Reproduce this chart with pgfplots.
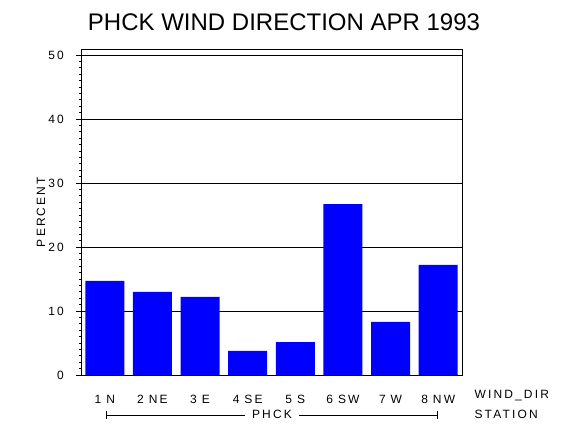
\documentclass[border=0pt]{standalone}
\usepackage{fontspec}
\setmainfont{Liberation Sans}
\newfontfamily\labfont[LetterSpace=18]{Liberation Sans}
\usepackage{pgfplots}
\pgfplotsset{compat=1.18}

\definecolor{barblue}{RGB}{0,0,255}
\newcommand{\gap}{\hspace{5pt}}

\begin{document}
\begin{tikzpicture}
\path[use as bounding box] (0,0) rectangle (570pt,430pt);

\node[anchor=base] at (284pt,399pt) {\fontsize{24}{24}\selectfont PHCK WIND DIRECTION APR 1993};

\begin{axis}[
  at={(81pt,55pt)}, anchor=south west,
  scale only axis, width=381pt, height=326pt,
  xmin=0.5, xmax=8.5, ymin=0, ymax=50.94,
  ybar, bar width=39pt,
  axis line style={black, line width=0.9pt},
  xtick=data,
  xticklabels={1\gap N, 2\gap NE, 3\gap E, 4\gap SE, 5\gap S, 6\gap SW, 7\gap W, 8\gap NW},
  major x tick style={draw=none},
  xticklabel style={font=\fontsize{12}{12}\labfont, anchor=base, yshift=-24pt, inner sep=0pt},
  ytick={0,10,20,30,40,50},
  minor y tick num=9,
  ytick pos=left, tick align=outside,
  major tick length=5pt, minor tick length=2.5pt,
  every tick/.style={black, line width=0.8pt},
  yticklabel style={font=\fontsize{12}{12}\labfont, anchor=east, inner sep=0pt, xshift=-12pt},
  /pgf/number format/assume math mode=true,
  ymajorgrids, grid style={black, line width=0.9pt},
  ylabel={PERCENT},
  ylabel style={font=\fontsize{12}{12}\labfont, at={(axis description cs:-0.105,0.5)}, anchor=center},
]
\addplot[fill=barblue, draw=none] coordinates {
  (1,14.7) (2,13.0) (3,12.2) (4,3.75) (5,5.15) (6,26.7) (7,8.3) (8,17.2)
};
\end{axis}

\node[anchor=base west, font=\fontsize{12}{12}\labfont] at (471pt,31pt) {WIND\_DIR};
\node[anchor=base west, font=\fontsize{12}{12}\labfont] at (471pt,11pt) {STATION};
\draw[line width=0.8pt] (106pt,11pt) -- (106pt,19pt);
\draw[line width=0.8pt] (437pt,11pt) -- (437pt,19pt);
\draw[line width=0.8pt] (106pt,15pt) -- (437pt,15pt);
\node[anchor=base, fill=white, inner xsep=7pt, inner ysep=1pt, font=\fontsize{12}{12}\labfont] at (272pt,11pt) {PHCK};
\end{tikzpicture}
\end{document}
